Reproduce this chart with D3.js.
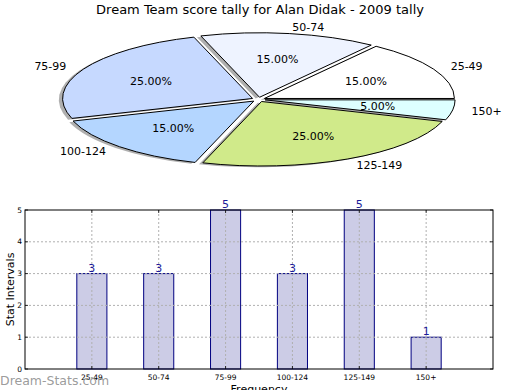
<!DOCTYPE html>
<html><head><meta charset="utf-8">
<script src="https://cdn.jsdelivr.net/npm/d3@7"></script>
<style>body{margin:0;background:#fff}svg{display:block}text{font-family:"DejaVu Sans",sans-serif}</style>
</head><body><svg id="c" width="520" height="390"></svg>
<script>
const categories = ["25-49","50-74","75-99","100-124","125-149","150+"];
const pctValues = [15,15,25,15,25,5];
const counts = [3,3,5,3,5,1];
const pieColors = ["#ffffff","#eef3ff","#c6d9ff","#b4d6ff","#d0ea8a","#ddffff"];
const yTicks = [0,1,2,3,4,5];
const title = "Dream Team score tally for Alan Didak - 2009 tally";

const svg = d3.select("#c");
svg.append("text").attr("x",260).attr("y",14).attr("text-anchor","middle")
  .attr("font-size",13).text(title);

// Pie
const cx=258.5, cy=99.5, rx=190, ry=64.5, k=ry/rx, ex=0.035;
const pie = d3.pie().sort(null).startAngle(Math.PI/2).endAngle(Math.PI/2-2*Math.PI);
const arcs = pie(pctValues);
const arc = d3.arc().innerRadius(0).outerRadius(rx);
const g = svg.append("g").attr("transform",`translate(${cx},${cy}) scale(1,${k})`);
const mid = d=> (d.startAngle+d.endAngle)/2;
const off = d=> [ex*rx*Math.sin(mid(d)), -ex*rx*Math.cos(mid(d))];
// shadows
g.selectAll("path.sh").data(arcs).join("path").attr("class","sh")
  .attr("d",arc)
  .attr("transform",d=>{const o=off(d);return `translate(${o[0]-0.02*rx},${o[1]+0.02*rx})`;})
  .attr("fill","#7a7a7a").attr("fill-opacity",0.6).attr("stroke","none");
g.selectAll("path.w").data(arcs).join("path").attr("class","w")
  .attr("d",arc)
  .attr("transform",d=>{const o=off(d);return `translate(${o[0]},${o[1]})`;})
  .attr("fill",(d,i)=>pieColors[i]).attr("stroke","#000").attr("stroke-width",1)
  .attr("vector-effect","non-scaling-stroke");
// labels
arcs.forEach((d,i)=>{
  const a=mid(d), s=Math.sin(a), c=-Math.cos(a);
  const ox=cx+ex*rx*s, oy=cy+ex*ry*c;
  const lx=ox+1.1*rx*s, ly=oy+1.1*ry*c;
  svg.append("text").attr("x",lx).attr("y",ly).attr("dy","0.35em")
    .attr("text-anchor",s>0?"start":"end").attr("font-size",11).text(categories[i]);
  svg.append("text").attr("x",ox+0.6*rx*s).attr("y",oy+0.6*ry*c).attr("dy","0.35em")
    .attr("text-anchor","middle").attr("font-size",11).text(d3.format(".2f")(d.data)+"%");
});

// Bar chart
const L=25,R=493,T=210,B=369;
const x = d3.scaleLinear().domain([0,7]).range([L,R]);
const y = d3.scaleLinear().domain([0,5]).range([B,T]);
const bw = x(0.45)-x(0);
const bg = svg.append("g");
bg.selectAll("rect").data(counts).join("rect")
  .attr("x",(d,i)=>x(i+1)-bw/2).attr("width",bw)
  .attr("y",d=>y(d)).attr("height",d=>B-y(d))
  .attr("fill","#ccccE6").attr("stroke","#000080").attr("stroke-width",1);
// grid
const grid = svg.append("g").attr("stroke","#b0b0b0").attr("stroke-dasharray","2,2").attr("stroke-width",1);
categories.forEach((c,i)=>grid.append("line").attr("x1",x(i+1)).attr("x2",x(i+1)).attr("y1",T).attr("y2",B));
yTicks.slice(1,-1).forEach(t=>grid.append("line").attr("x1",L).attr("x2",R).attr("y1",y(t)).attr("y2",y(t)));
// frame
svg.append("rect").attr("x",L).attr("y",T).attr("width",R-L).attr("height",B-T)
  .attr("fill","none").attr("stroke","#000").attr("stroke-width",1);
// ticks
const tk = svg.append("g").attr("stroke","#000").attr("stroke-width",0.8);
yTicks.forEach(t=>{
  tk.append("line").attr("x1",L).attr("x2",L+3).attr("y1",y(t)).attr("y2",y(t));
  tk.append("line").attr("x1",R).attr("x2",R-3).attr("y1",y(t)).attr("y2",y(t));
  svg.append("text").attr("x",L-3).attr("y",y(t)).attr("dy","0.35em").attr("text-anchor","end")
    .attr("font-size",7.5).text(t);
});
categories.forEach((c,i)=>{
  tk.append("line").attr("x1",x(i+1)).attr("x2",x(i+1)).attr("y1",B).attr("y2",B-3);
  tk.append("line").attr("x1",x(i+1)).attr("x2",x(i+1)).attr("y1",T).attr("y2",T+3);
  svg.append("text").attr("x",x(i+1)).attr("y",B+11).attr("text-anchor","middle")
    .attr("font-size",7.5).text(c);
});
// value labels
counts.forEach((v,i)=>svg.append("text").attr("x",x(i+1)).attr("y",y(v)-2)
  .attr("text-anchor","middle").attr("font-size",11).attr("fill","#1c1c9a").text(v));
svg.append("text").attr("transform",`translate(10,${(T+B)/2}) rotate(-90)`).attr("dy","0.35em")
  .attr("text-anchor","middle").attr("font-size",11).text("Stat Intervals");
svg.append("text").attr("x",259).attr("y",393).attr("text-anchor","middle").attr("font-size",11).text("Frequency");
svg.append("text").attr("x",0).attr("y",385).attr("font-size",12.5).attr("fill","#8f8f8f")
  .attr("fill-opacity",0.9).text("Dream-Stats.com");
</script></body></html>
